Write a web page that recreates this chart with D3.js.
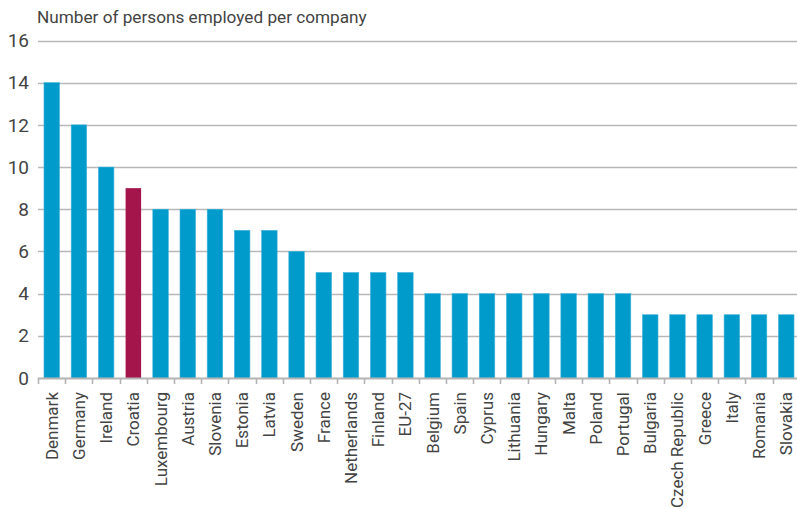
<!DOCTYPE html>
<html lang="en">
<head>
    <meta charset="UTF-8">
    <title>Persons employed per company</title>
    <style>
        body { margin: 0; background: #fff; }
        svg { display: block; }
        text { font-family: "Liberation Sans Narrow", "Roboto", sans-serif; fill: #444; }
    </style>
</head>
<body>
    <div id="chart"></div>
    <script src="https://d3js.org/d3.v7.min.js"></script>
    <script>
        // Data
        const countries = ["Denmark", "Germany", "Ireland", "Croatia", "Luxembourg", "Austria", "Slovenia",
            "Estonia", "Latvia", "Sweden", "France", "Netherlands", "Finland", "EU-27", "Belgium", "Spain",
            "Cyprus", "Lithuania", "Hungary", "Malta", "Poland", "Portugal", "Bulgaria", "Czech Republic",
            "Greece", "Italy", "Romania", "Slovakia"];
        const persons = [14, 12, 10, 9, 8, 8, 8, 7, 7, 6, 5, 5, 5, 5, 4, 4, 4, 4, 4, 4, 4, 4, 3, 3, 3, 3, 3, 3];
        const yTicks = [0, 2, 4, 6, 8, 10, 12, 14, 16];
        const highlight = "Croatia";

        const width = 797, height = 509;
        const plotLeft = 38, plotRight = 800, plotTop = 40.5, plotBottom = 378;

        const svg = d3.select("#chart").append("svg")
            .attr("width", width)
            .attr("height", height);

        const x = d3.scaleBand()
            .domain(countries)
            .range([plotLeft, plotRight])
            .paddingInner(0.43)
            .paddingOuter(0.22);

        const y = d3.scaleLinear()
            .domain([0, 16])
            .range([plotBottom, plotTop]);

        // gridlines
        svg.append("g")
            .selectAll("line")
            .data(yTicks.filter(d => d > 0))
            .join("line")
            .attr("x1", plotLeft)
            .attr("x2", width)
            .attr("y1", d => Math.round(y(d)) + 0.5)
            .attr("y2", d => Math.round(y(d)) + 0.5)
            .attr("stroke", "#b8b8b8")
            .attr("stroke-width", 1.4);

        // y labels
        svg.append("g")
            .selectAll("text")
            .data(yTicks)
            .join("text")
            .attr("x", 29)
            .attr("y", d => y(d))
            .attr("dy", "0.35em")
            .attr("text-anchor", "end")
            .style("font-size", "19px")
            .text(d => d);

        // bars
        svg.append("g")
            .selectAll("rect")
            .data(countries)
            .join("rect")
            .attr("x", d => x(d))
            .attr("y", (d, i) => y(persons[i]))
            .attr("width", x.bandwidth())
            .attr("height", (d, i) => y(0) - y(persons[i]))
            .attr("fill", d => d === highlight ? "#a3154b" : "#009bcb")
            .attr("stroke", d => d === highlight ? "none" : "#3fb3da")
            .attr("stroke-width", 0.6);

        // x axis
        const step = x.step();
        const axis = svg.append("g");
        axis.append("line")
            .attr("x1", plotLeft)
            .attr("x2", width)
            .attr("y1", plotBottom + 0.5)
            .attr("y2", plotBottom + 0.5)
            .attr("stroke", "#b3b3b3")
            .attr("stroke-width", 2);
        axis.selectAll(".tick")
            .data(d3.range(countries.length))
            .join("line")
            .attr("class", "tick")
            .attr("x1", i => Math.round(plotLeft + i * step) + 0.5)
            .attr("x2", i => Math.round(plotLeft + i * step) + 0.5)
            .attr("y1", plotBottom)
            .attr("y2", plotBottom + 6)
            .attr("stroke", "#b3b3b3")
            .attr("stroke-width", 1.6);

        axis.selectAll(".lbl")
            .data(countries)
            .join("text")
            .attr("class", "lbl")
            .attr("transform", d => `translate(${x(d) + x.bandwidth() / 2},392) rotate(-90)`)
            .attr("dy", "0.35em")
            .attr("text-anchor", "end")
            .style("font-size", "17px")
            .text(d => d);

        // title
        svg.append("text")
            .attr("x", 37)
            .attr("y", 23)
            .style("font-size", "17.2px")
            .text("Number of persons employed per company");
    </script>
</body>
</html>
